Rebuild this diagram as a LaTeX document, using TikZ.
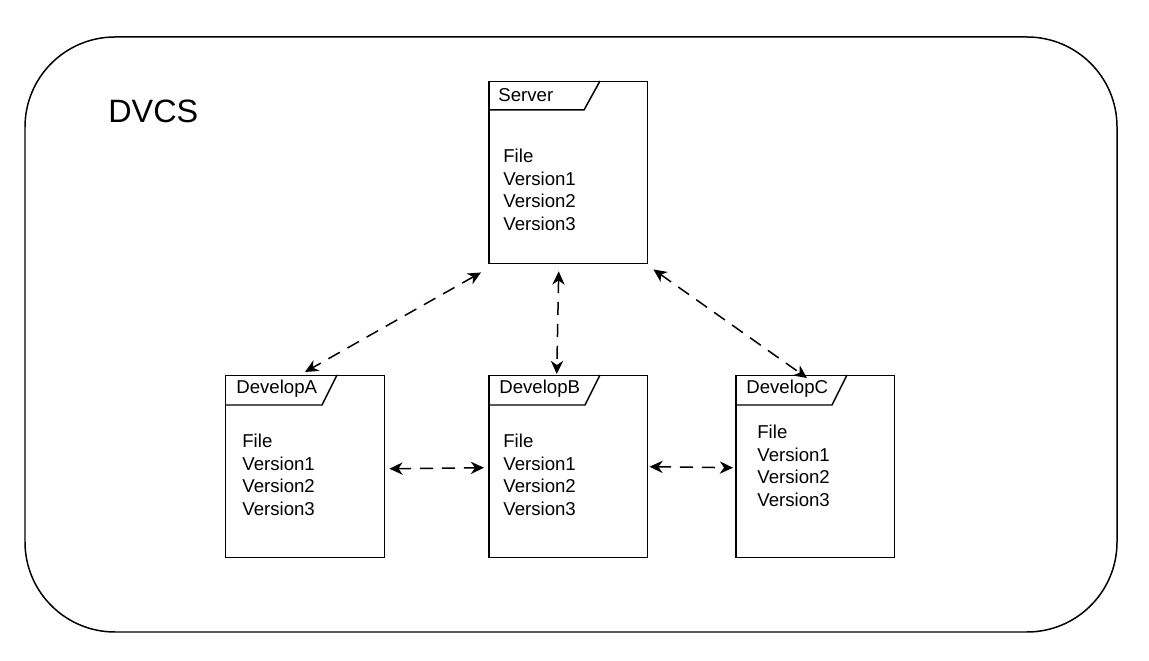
\documentclass[tikz,border=0pt]{standalone}
\usepackage{fontspec}
\setmainfont{Liberation Sans}
\usetikzlibrary{arrows.meta}
\tikzset{
  repobox/.style={draw, line width=0.85pt, minimum width=3.18cm, minimum height=3.64cm, inner sep=0pt},
  tablabel/.style={anchor=west, inner sep=0pt, font=\fontsize{10.6}{12.8}\selectfont},
  filetext/.style={anchor=north west, align=left, inner sep=0pt, font=\fontsize{10.6}{12.8}\selectfont},
  sync/.style={line width=0.85pt, dash pattern=on 7.5pt off 5pt,
    {Stealth[length=7.5pt,width=7pt,inset=2.4pt]}-{Stealth[length=7.5pt,width=7pt,inset=2.4pt]}}
}
\begin{document}
\begin{tikzpicture}[x=0.02cm, y=-0.02cm]
  \useasboundingbox (0,0) rectangle (1149,661);
  % outer frame and title
  \draw[line width=0.85pt, rounded corners=1.8cm] (25,37) rectangle (1117,632);
  \node[anchor=west, inner sep=0pt, font=\fontsize{18.4}{22}\selectfont] (title) at (108,111) {DVCS};
  % repositories
  \node[repobox, anchor=north west] (server) at (488,81) {};
  \node[repobox, anchor=north west] (devA) at (225,375) {};
  \node[repobox, anchor=north west] (devB) at (488,375) {};
  \node[repobox, anchor=north west] (devC) at (735,375) {};
  % name tabs
  \draw[line width=0.85pt] ([shift={(0,29)}]server.north west) -- ++(96,0) -- ([shift={(112,0)}]server.north west);
  \draw[line width=0.85pt] ([shift={(0,30)}]devA.north west) -- ++(97,0) -- ([shift={(112,0)}]devA.north west);
  \draw[line width=0.85pt] ([shift={(0,30)}]devB.north west) -- ++(97,0) -- ([shift={(112,0)}]devB.north west);
  \draw[line width=0.85pt] ([shift={(0,30)}]devC.north west) -- ++(97,0) -- ([shift={(112,0)}]devC.north west);
  \node[tablabel] (serverlabel) at ([shift={(10,14)}]server.north west) {Server};
  \node[tablabel] (devAlabel) at ([shift={(11,14)}]devA.north west) {DevelopA};
  \node[tablabel] (devBlabel) at ([shift={(11,14)}]devB.north west) {DevelopB};
  \node[tablabel] (devClabel) at ([shift={(11,14)}]devC.north west) {DevelopC};
  % file versions
  \node[filetext] (serverfiles) at ([shift={(15,68)}]server.north west) {File\\Version1\\Version2\\Version3};
  \node[filetext] (devAfiles) at ([shift={(17,59)}]devA.north west) {File\\Version1\\Version2\\Version3};
  \node[filetext] (devBfiles) at ([shift={(15,59)}]devB.north west) {File\\Version1\\Version2\\Version3};
  \node[filetext] (devCfiles) at ([shift={(22,50)}]devC.north west) {File\\Version1\\Version2\\Version3};
  % sync links
  \draw[sync] ([shift={(-7,8)}]server.south west) -- ([shift={(80,-3)}]devA.north west);
  \draw[sync] ([shift={(-9.5,7)}]server.south) -- ([shift={(-11.5,-1)}]devB.north);
  \draw[sync] ([shift={(5,5)}]server.south east) -- ([shift={(72,3)}]devC.north west);
  \draw[sync] ([shift={(4,2)}]devA.east) -- ([shift={(-4,1)}]devB.west);
  \draw[sync] ([shift={(1,0)}]devB.east) -- ([shift={(-2,1)}]devC.west);
\end{tikzpicture}
\end{document}
